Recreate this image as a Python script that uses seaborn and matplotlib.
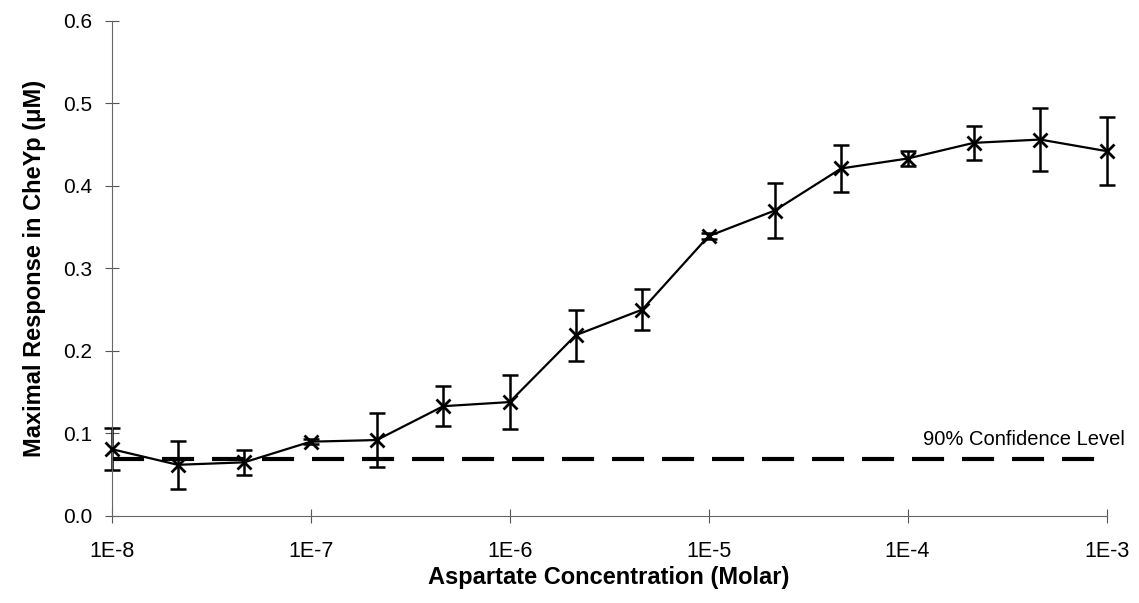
import matplotlib
matplotlib.use("Agg")
import matplotlib.pyplot as plt
import seaborn as sns
import pandas as pd

# aspartate concentration (M), three points per decade
concentration = [1e-8, 2.15e-8, 4.64e-8,
                 1e-7, 2.15e-7, 4.64e-7,
                 1e-6, 2.15e-6, 4.64e-6,
                 1e-5, 2.15e-5, 4.64e-5,
                 1e-4, 2.15e-4, 4.64e-4,
                 1e-3]

# maximal response in CheYp (uM)
response = [0.081, 0.062, 0.065, 0.090, 0.092, 0.133, 0.138, 0.219,
            0.250, 0.339, 0.370, 0.421, 0.433, 0.452, 0.456, 0.442]

error = [0.025, 0.029, 0.015, 0.003, 0.033, 0.024, 0.033, 0.031,
         0.025, 0.004, 0.033, 0.029, 0.009, 0.021, 0.038, 0.041]

confidence_level = 0.069

x_ticks = [1e-8, 1e-7, 1e-6, 1e-5, 1e-4, 1e-3]
x_tick_labels = ["1E-8", "1E-7", "1E-6", "1E-5", "1E-4", "1E-3"]
y_ticks = [0.0, 0.1, 0.2, 0.3, 0.4, 0.5, 0.6]

df = pd.DataFrame({
    "conc": concentration,
    "resp": response,
    "err": error
})

sns.set_style("white")
plt.rcParams["font.family"] = ["Liberation Sans", "DejaVu Sans"]
plt.rcParams["text.color"] = "black"
plt.rcParams["axes.labelcolor"] = "black"

fig, ax = plt.subplots(figsize=(11.39, 6.03), dpi=100)
fig.subplots_adjust(left=0.098, right=0.9715, top=0.9657, bottom=0.1443)

# confidence level
ax.axhline(
    confidence_level,
    color="black",
    lw=3,
    linestyle=(0, (7.7, 4.3)),
    zorder=1
)

ax.errorbar(
    df["conc"], df["resp"],
    yerr=df["err"],
    fmt="none",
    ecolor="black",
    elinewidth=1.8,
    capsize=6,
    capthick=1.8,
    zorder=2,
    clip_on=False
)

sns.lineplot(
    data=df,
    x="conc",
    y="resp",
    color="black",
    lw=1.6,
    marker="x",
    markersize=10,
    markeredgewidth=2,
    markeredgecolor="black",
    ax=ax,
    zorder=3,
    clip_on=False
)

ax.set_xscale("log")
ax.set_xlim(1e-8, 1e-3)
ax.set_ylim(0, 0.6)
ax.set_xticks(x_ticks)
ax.set_xticklabels(x_tick_labels)
ax.minorticks_off()
ax.set_yticks(y_ticks)
ax.set_yticklabels([f"{v:.1f}" for v in y_ticks])

ax.tick_params(axis="both", bottom=True, left=True, direction="inout",
               length=10, width=0.8, colors="#555555",
               labelcolor="black", labelsize=15)
ax.tick_params(axis="x", pad=13, labelsize=15.5)
ax.tick_params(axis="y", pad=9)

sns.despine(ax=ax)
for side in ["left", "bottom"]:
    ax.spines[side].set_color("#666666")
    ax.spines[side].set_linewidth(0.8)

ax.text(
    1.0186, 0.086, "90% Confidence Level",
    transform=ax.get_yaxis_transform(),
    ha="right", va="baseline",
    fontsize=14.5
)

ax.set_xlabel("Aspartate Concentration (Molar)", fontsize=17,
              weight="bold", labelpad=3)
ax.set_ylabel("Maximal Response in CheYp (μM)", fontsize=17,
              weight="bold", labelpad=12)

plt.savefig("out.png", dpi=100)
plt.close()
